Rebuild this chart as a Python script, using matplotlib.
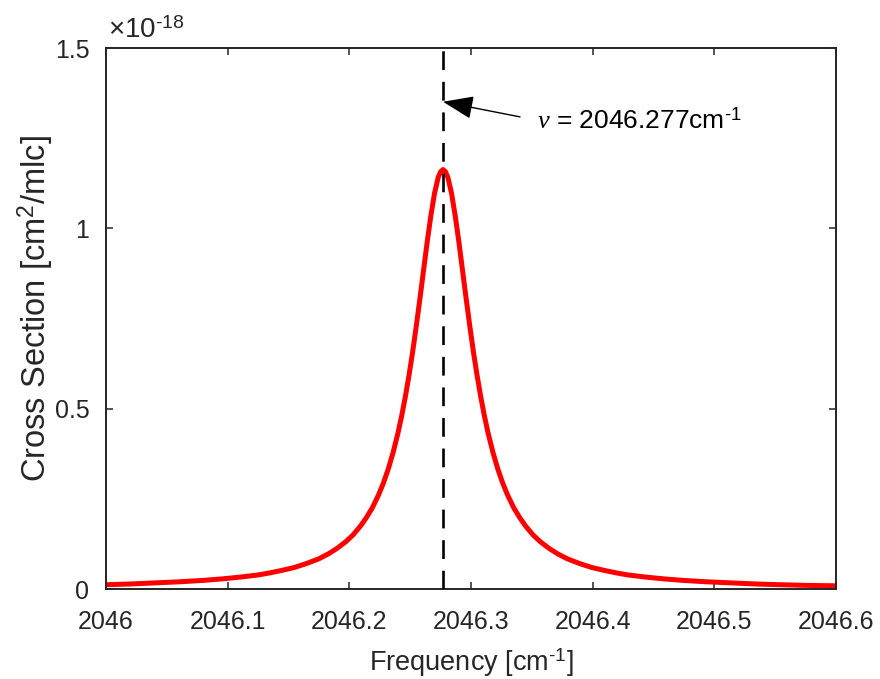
import numpy as np
import matplotlib
matplotlib.use("Agg")
import matplotlib.pyplot as plt

plt.rcParams['font.family'] = ['Liberation Sans', 'DejaVu Sans']
plt.rcParams['mathtext.fontset'] = 'custom'
plt.rcParams['mathtext.rm'] = 'Liberation Sans'
plt.rcParams['mathtext.it'] = 'Liberation Serif:italic'
plt.rcParams['axes.unicode_minus'] = False
plt.rcParams['lines.scale_dashes'] = False

# Absorption line profile (cross section in units of 1e-18 cm^2/molecule)
freq_left = [2046.000, 2046.020, 2046.040, 2046.060, 2046.080, 2046.095, 2046.110,
             2046.125, 2046.135, 2046.145, 2046.155, 2046.165, 2046.175, 2046.183,
             2046.190, 2046.197, 2046.203, 2046.209, 2046.214, 2046.219, 2046.224,
             2046.228, 2046.232, 2046.236, 2046.240, 2046.243, 2046.246, 2046.249,
             2046.252, 2046.255, 2046.258, 2046.261, 2046.264, 2046.267, 2046.270,
             2046.273, 2046.275, 2046.277]
xsec_left = [0.012, 0.014, 0.017, 0.020, 0.024, 0.028, 0.033,
             0.039, 0.045, 0.052, 0.060, 0.071, 0.084, 0.098,
             0.113, 0.131, 0.150, 0.174, 0.198, 0.226, 0.261,
             0.294, 0.333, 0.379, 0.433, 0.480, 0.533, 0.592,
             0.657, 0.729, 0.805, 0.884, 0.963, 1.035, 1.097,
             1.141, 1.157, 1.163]
freq_right = [2046.279, 2046.281, 2046.284, 2046.287, 2046.290, 2046.293, 2046.296,
              2046.299, 2046.302, 2046.305, 2046.308, 2046.311, 2046.314, 2046.318,
              2046.322, 2046.326, 2046.330, 2046.335, 2046.340, 2046.345, 2046.351,
              2046.357, 2046.364, 2046.371, 2046.379, 2046.389, 2046.399, 2046.409,
              2046.419, 2046.429, 2046.444, 2046.459, 2046.474, 2046.494, 2046.514,
              2046.534, 2046.554, 2046.577, 2046.600]
xsec_right = [1.157, 1.141, 1.097, 1.035, 0.963, 0.884, 0.805,
              0.729, 0.657, 0.592, 0.533, 0.480, 0.433, 0.379,
              0.333, 0.294, 0.261, 0.226, 0.198, 0.174, 0.150,
              0.131, 0.113, 0.098, 0.084, 0.071, 0.060, 0.052,
              0.045, 0.039, 0.033, 0.028, 0.024, 0.020, 0.017,
              0.014, 0.012, 0.010, 0.009]

line_center = 2046.277
arrow_tip_y = 1.351

x_ticks = [2046.0, 2046.1, 2046.2, 2046.3, 2046.4, 2046.5, 2046.6]
x_ticklabels = ['2046', '2046.1', '2046.2', '2046.3', '2046.4', '2046.5', '2046.6']
y_ticks = [0, 0.5, 1.0, 1.5]
y_ticklabels = ['0', '0.5', '1', '1.5']

ink = '#262626'

freq = freq_left + freq_right
xsec = xsec_left + xsec_right

fig = plt.figure(figsize=(8.8, 6.79), dpi=100)
ax = fig.add_axes([0.1205, 0.1325, 0.8295, 0.7968])

ax.plot(freq, xsec, color='red', lw=3.6, solid_joinstyle='round',
        solid_capstyle='butt', zorder=2)
ax.plot([line_center, line_center], [0, 1.5], color='black', lw=1.9,
        dashes=(13.5, 8.5), dash_capstyle='butt', zorder=3)

# arrow pointing at the line centre, label placed to its right
ax.annotate('', xy=(line_center, arrow_tip_y), xycoords='data',
            xytext=(2046.3403, 1.309), textcoords='data',
            arrowprops=dict(arrowstyle='-|>,head_length=1.0,head_width=0.38',
                            mutation_scale=19, color='black', lw=1.0,
                            shrinkA=0, shrinkB=0))
ax.text(2046.3545, 1.276, r'$\nu$ = 2046.277cm$^{\text{-1}}$',
        fontsize=19, color='black', va='baseline', ha='left')

ax.set_xlim(2046.0, 2046.6)
ax.set_ylim(0, 1.5)
ax.set_xticks(x_ticks, x_ticklabels)
ax.set_yticks(y_ticks, y_ticklabels)
ax.tick_params(direction='in', length=5, width=1.1, colors=ink,
               labelsize=18, top=True, right=True)
ax.tick_params(axis='x', pad=15)
ax.tick_params(axis='y', pad=12)
for s in ax.spines.values():
    s.set_color(ink)
    s.set_linewidth(1.4)

ax.set_xlabel(r'Frequency [cm$^{\text{-1}}$]', fontsize=19.5, color=ink, labelpad=9)
ax.set_ylabel(r'Cross Section [cm$^{2}$/mlc]', fontsize=23.5, color=ink)
ax.yaxis.set_label_coords(-0.069, 0.519)

ax.text(0.003, 1.008, r'$\times$10$^{\text{-18}}$', transform=ax.transAxes,
        fontsize=20, color=ink, ha='left', va='bottom')

fig.savefig('out.png', dpi=100, facecolor='white')
